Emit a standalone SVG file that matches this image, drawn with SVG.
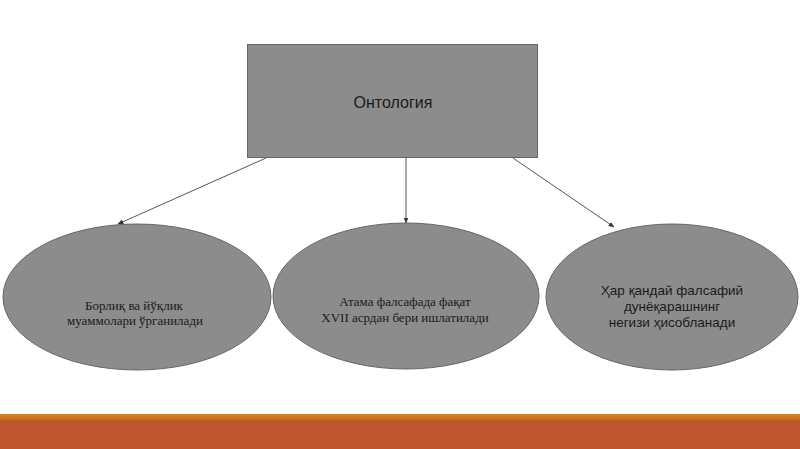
<svg xmlns="http://www.w3.org/2000/svg" width="800" height="449" viewBox="0 0 800 449">
<defs>
<style>
.node{fill:#8c8c8c;stroke:#666;stroke-width:1}
.conn{stroke:#555;stroke-width:1;fill:none;marker-end:url(#ah)}
.serif{font-family:"Liberation Serif","Times New Roman",serif;font-size:13px;fill:#1a1a1a;text-anchor:middle}
.sans{font-family:"Liberation Sans",Arial,sans-serif;fill:#1a1a1a;text-anchor:middle}
</style>
<marker id="ah" viewBox="0 0 10 10" refX="9" refY="5" markerWidth="6" markerHeight="6" orient="auto" markerUnits="userSpaceOnUse">
<path d="M0,1 L10,5 L0,9 z" fill="#333"/>
</marker>
<linearGradient id="band" x1="0" y1="0" x2="0" y2="1">
<stop offset="0" stop-color="#d98a1e"/>
<stop offset="1" stop-color="#c7662b"/>
</linearGradient>
</defs>
<rect width="800" height="449" fill="#ffffff"/>
<g id="connectors">
<line class="conn" x1="266" y1="158" x2="118" y2="224"/>
<line class="conn" x1="406" y1="158" x2="406" y2="223"/>
<line class="conn" x1="513" y1="158" x2="614" y2="227"/>
</g>
<g id="node-ontology">
<rect class="node" x="247.5" y="44.5" width="290" height="113"/>
<text class="sans" x="393" y="108" font-size="16">Онтология</text>
</g>
<g id="node-borliq">
<ellipse class="node" cx="137" cy="297" rx="134" ry="73"/>
<text class="serif" x="134" y="310">Борлиқ ва йўқлик</text>
<text class="serif" x="135" y="325">муаммолари ўрганилади</text>
</g>
<g id="node-atama">
<ellipse class="node" cx="406" cy="296" rx="133" ry="73"/>
<text class="serif" x="405" y="306">Атама фалсафада фақат</text>
<text class="serif" x="405" y="322">XVII асрдан бери ишлатилади</text>
</g>
<g id="node-har">
<ellipse class="node" cx="672" cy="297" rx="126" ry="73"/>
<text class="sans" x="672" y="295" font-size="13.5">Ҳар қандай фалсафий</text>
<text class="sans" x="672" y="311" font-size="13.5">дунёқарашнинг</text>
<text class="sans" x="672" y="327" font-size="13.5">негизи ҳисобланади</text>
</g>
<rect x="0" y="414" width="800" height="6" fill="url(#band)"/>
<rect x="0" y="420" width="800" height="29" fill="#bf562f"/>
</svg>
